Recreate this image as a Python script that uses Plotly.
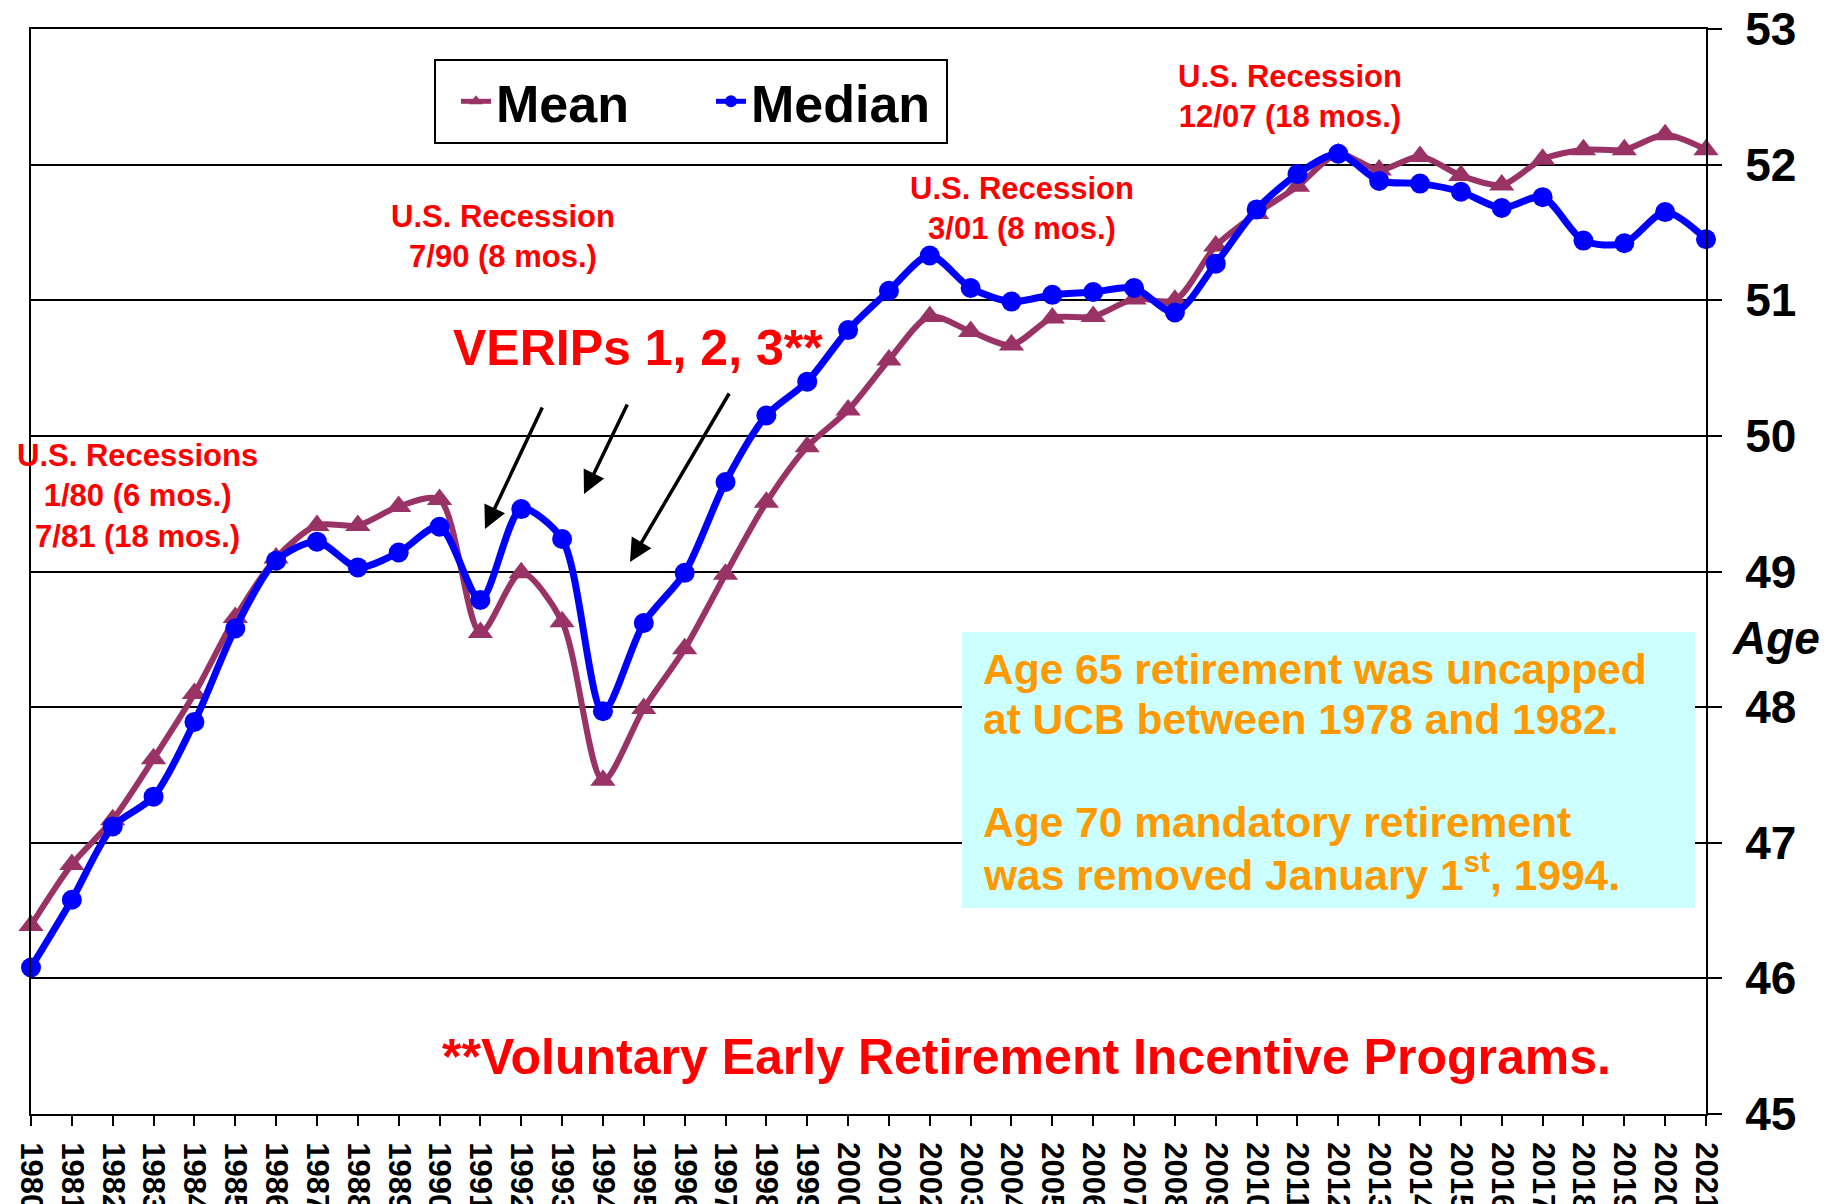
import plotly.graph_objects as go

# ---------------- data ----------------
years = list(range(1980, 2022))
year_labels = [str(y) for y in years]

mean_age = [46.39, 46.84, 47.17, 47.62, 48.10, 48.66, 49.10, 49.34, 49.34, 49.48,
            49.53, 48.55, 48.99, 48.63, 47.46, 47.99, 48.43, 48.98, 49.51, 49.92,
            50.19, 50.56, 50.88, 50.77, 50.67, 50.87, 50.88, 51.01, 51.00, 51.40,
            51.64, 51.84, 52.08, 51.96, 52.06, 51.92, 51.85, 52.04, 52.11, 52.11,
            52.22, 52.11]

median_age = [46.08, 46.58, 47.12, 47.34, 47.89, 48.58, 49.08, 49.22, 49.03, 49.14,
              49.33, 48.79, 49.46, 49.24, 47.97, 48.62, 48.99, 49.66, 50.15, 50.40,
              50.78, 51.07, 51.33, 51.09, 50.99, 51.04, 51.06, 51.09, 50.91, 51.27,
              51.67, 51.93, 52.08, 51.88, 51.86, 51.80, 51.68, 51.76, 51.44, 51.42,
              51.65, 51.45]

y_ticks = [45, 46, 47, 48, 49, 50, 51, 52, 53]

recession_notes = [
    "U.S. Recessions<br>1/80 (6 mos.)<br>7/81 (18 mos.)",
    "U.S. Recession<br>7/90 (8 mos.)",
    "U.S. Recession<br>3/01 (8 mos.)",
    "U.S. Recession<br>12/07 (18 mos.)",
]
verips_text = "VERIPs 1, 2, 3**"
footnote_text = "**Voluntary Early Retirement Incentive Programs."
box_lines = [
    "Age 65 retirement was uncapped",
    "at UCB between 1978 and 1982.",
    "Age 70 mandatory retirement",
    "was removed January 1<sup>st</sup>, 1994.",
]

# ---------------- layout geometry (page pixels) ----------------
OFF = 8                      # default body margin of the html page
W, H = 1835 - OFF, 1204 - OFF
L, R, T, B = 31, 1706, 29, 1114   # plot area in page pixels
FONT = "Liberation Sans, Arial, sans-serif"
MEAN_C = "#993366"
MED_C = "#0000FF"
RED = "#FF0000"
ORANGE = "#FF9900"


def px(xp):
    return (xp - L) / (R - L)


def py(yp):
    return (B - yp) / (B - T)


def dx(xp):
    return 1980 + (xp - L) / (R - L) * 41


def dy(yp):
    return 53 - (yp - T) / (B - T) * 8


fig = go.Figure()
fig.add_trace(go.Scatter(
    x=years, y=mean_age, name="Mean", mode="lines+markers",
    line=dict(color=MEAN_C, width=6, shape="spline", smoothing=0.8),
    marker=dict(symbol="triangle-up", size=22, color=MEAN_C),
    cliponaxis=False))
fig.add_trace(go.Scatter(
    x=years, y=median_age, name="Median", mode="lines+markers",
    line=dict(color=MED_C, width=7, shape="spline", smoothing=0.8),
    marker=dict(symbol="circle", size=20, color=MED_C),
    cliponaxis=False))

fig.update_layout(
    width=W, height=H, autosize=False,
    margin=dict(l=L - OFF, r=1835 - R, t=T - OFF, b=1204 - B, pad=0),
    paper_bgcolor="white", plot_bgcolor="white",
    font=dict(family=FONT, color="black"),
    showlegend=True,
    legend=dict(
        orientation="h", x=px(434), y=py(59), xanchor="left", yanchor="top",
        bgcolor="white", bordercolor="black", borderwidth=2,
        font=dict(family=FONT, size=52, color="black", weight="bold"),
        itemsizing="constant", entrywidth=190, entrywidthmode="pixels",
        indentation=20,
    ),
    xaxis=dict(
        range=[1980, 2021], tickmode="array", tickvals=years, ticktext=year_labels,
        tickangle=90, ticks="outside", ticklen=10, tickwidth=2, tickcolor="black",
        showline=True, linecolor="black", linewidth=2, mirror=True,
        showgrid=False, zeroline=False, automargin=False, ticklabelstandoff=10,
        ticklabeloverflow="allow",
        tickfont=dict(family=FONT, size=31, color="black", weight="bold"),
    ),
    yaxis=dict(
        range=[45, 53], side="right", tickmode="array", tickvals=y_ticks,
        ticks="outside", ticklen=14, tickwidth=2, tickcolor="black",
        showline=True, linecolor="black", linewidth=2, mirror=True,
        showgrid=True, gridcolor="black", gridwidth=2, zeroline=False,
        automargin=False, ticklabelstandoff=14, ticklabeloverflow="allow",
        tickfont=dict(family=FONT, size=46, color="black", weight="bold"),
    ),
)

# cyan note box
fig.add_shape(type="rect", xref="paper", yref="paper",
              x0=px(962), x1=px(1695), y0=py(908), y1=py(632),
              fillcolor="#CCFFFF", line=dict(width=0), layer="above")

ann = []
for txt, (cx, cy) in zip(recession_notes, [(137, 496), (503, 236), (1022, 208), (1290, 96)]):
    ann.append(dict(text=txt, xref="paper", yref="paper", x=px(cx), y=py(cy),
                    xanchor="center", yanchor="middle", showarrow=False, align="center",
                    font=dict(family=FONT, size=31, color=RED, weight="bold")))
ann.append(dict(text=verips_text, xref="paper", yref="paper", x=px(638), y=py(348),
                xanchor="center", yanchor="middle", showarrow=False,
                font=dict(family=FONT, size=50, color=RED, weight="bold")))
ann.append(dict(text=footnote_text, xref="paper", yref="paper", x=px(1026), y=py(1057),
                xanchor="center", yanchor="middle", showarrow=False,
                font=dict(family=FONT, size=50, color=RED, weight="bold")))
for txt, cy in zip(box_lines, [669, 720, 822, 872]):
    ann.append(dict(text=txt, xref="paper", yref="paper", x=px(981), y=py(cy),
                    xanchor="left", yanchor="middle", showarrow=False, align="left",
                    font=dict(family=FONT, size=42.5, color=ORANGE, weight="bold")))
ann.append(dict(text="<i>Age</i>", xref="paper", yref="paper", x=px(1776), y=py(638),
                xanchor="center", yanchor="middle", showarrow=False,
                font=dict(family=FONT, size=46, color="black", weight="bold")))
for (hx, hy), (tx, ty) in [((485, 529), (543, 406)),
                           ((584, 494), (628, 403)),
                           ((630, 562), (730, 392))]:
    ann.append(dict(text="", x=dx(hx), y=dy(hy), ax=dx(tx), ay=dy(ty),
                    xref="x", yref="y", axref="x", ayref="y",
                    showarrow=True, arrowhead=2, arrowsize=1.3, arrowwidth=3.5,
                    arrowcolor="black", standoff=0))
fig.update_layout(annotations=ann)

fig.write_html("out.html")
